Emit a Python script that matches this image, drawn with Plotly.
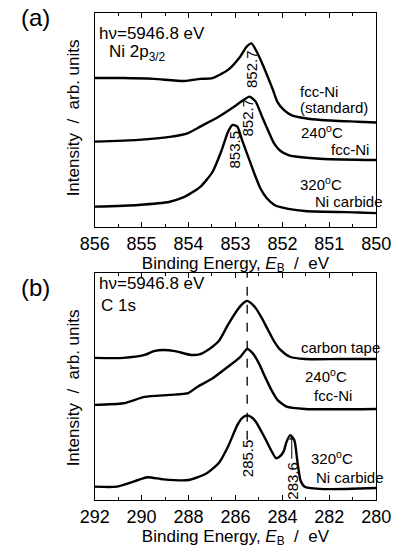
import plotly.graph_objects as go

# ---------------- Panel (a): Ni 2p3/2 ----------------
ni_std_E = [856.00, 855.39, 854.74, 854.09, 853.75, 853.49, 853.16, 852.90, 852.76, 852.66,
            852.53, 852.40, 852.30, 852.20, 852.11, 851.97, 851.81, 851.51, 851.18, 850.39, 850.00]
ni_std_I = [69.6, 69.6, 69.2, 68.2, 69.2, 69.6, 73.4, 79.6, 84.3, 85.8,
            81.2, 74.9, 69.5, 64.0, 58.6, 54.7, 52.3, 50.8, 50.0, 49.2, 48.8]

ni_240_E = [856.00, 855.07, 854.40, 854.01, 853.75, 853.36, 853.03, 852.83, 852.70, 852.57,
            852.43, 852.30, 852.17, 852.04, 851.87, 851.64, 851.12, 850.00]
ni_240_I = [39.9, 40.7, 42.1, 43.9, 46.9, 51.5, 56.2, 59.3, 60.9, 58.6,
            51.4, 44.9, 38.8, 35.5, 33.6, 32.7, 31.8, 31.3]

ni_320_E = [856.00, 855.07, 854.40, 854.14, 854.01, 853.75, 853.49, 853.30, 853.16, 853.06,
            852.96, 852.86, 852.73, 852.60, 852.47, 852.33, 852.17, 851.97, 851.52, 850.39, 850.00]
ni_320_I = [9.5, 10.3, 11.8, 13.6, 15.0, 18.7, 25.7, 35.5, 44.4, 47.7,
            46.9, 40.7, 32.9, 25.1, 18.1, 13.4, 10.3, 8.9, 7.5, 6.8, 6.5]

# ---------------- Panel (b): C 1s ----------------
c_tape_E = [292.00, 290.78, 289.87, 289.47, 289.08, 288.57, 287.89, 287.50, 287.11, 286.71,
            286.32, 285.92, 285.66, 285.50, 285.29, 285.13, 284.87, 284.61, 284.34, 284.08,
            283.68, 283.03, 281.58, 280.00]
c_tape_I = [62.6, 62.6, 63.9, 65.6, 66.1, 65.6, 63.9, 64.3, 66.5, 70.0,
            77.1, 83.7, 86.8, 87.7, 86.3, 84.4, 80.0, 74.9, 69.7, 66.1,
            63.1, 62.1, 62.1, 62.1]

c_240_E = [292.00, 290.78, 289.87, 288.80, 288.01, 287.63, 286.97, 286.32, 285.79, 285.50,
           285.26, 285.00, 284.74, 284.47, 284.21, 283.82, 283.03, 280.00]
c_240_I = [41.9, 42.6, 45.4, 46.3, 47.1, 49.8, 53.6, 58.7, 63.1, 66.5,
           64.6, 60.2, 54.3, 48.5, 44.1, 41.1, 40.1, 40.1]

c_320_E = [292.00, 291.05, 290.14, 289.75, 289.08, 288.01, 287.22, 286.71, 286.32, 285.92,
           285.72, 285.50, 285.33, 285.13, 284.74, 284.27, 284.14, 283.95, 283.82, 283.67,
           283.49, 283.36, 283.22, 283.03, 282.25, 280.00]
c_320_I = [5.9, 5.9, 8.8, 10.0, 9.1, 8.8, 11.8, 16.3, 23.5, 33.0,
           36.1, 37.2, 36.6, 34.5, 27.2, 18.4, 18.9, 21.3, 25.7, 28.6,
           26.3, 16.9, 8.4, 5.7, 4.8, 5.3]

# tick values
ticks_a = [856, 855, 854, 853, 852, 851, 850]
ticks_b = [292, 290, 288, 286, 284, 282, 280]

# peak marks
c_main_peak = 285.5
c_carbide_peak = 283.6

W, H = 407, 550
FONT = "Liberation Sans, Arial, sans-serif"


def px(x):
    return x / W


def py(y):
    return 1 - y / H


fig = go.Figure()
for E, I in [(ni_std_E, ni_std_I), (ni_240_E, ni_240_I), (ni_320_E, ni_320_I)]:
    fig.add_trace(go.Scatter(x=E, y=I, mode="lines", xaxis="x", yaxis="y",
                             line=dict(color="black", width=2.4, shape="spline", smoothing=0.6),
                             showlegend=False, hoverinfo="skip"))
for E, I in [(c_tape_E, c_tape_I), (c_240_E, c_240_I), (c_320_E, c_320_I)]:
    fig.add_trace(go.Scatter(x=E, y=I, mode="lines", xaxis="x2", yaxis="y2",
                             line=dict(color="black", width=2.4, shape="spline", smoothing=0.6),
                             showlegend=False, hoverinfo="skip"))

xcommon = dict(showline=True, linecolor="black", linewidth=1, mirror="ticks",
               ticks="inside", ticklen=5, tickwidth=1, tickcolor="black",
               showgrid=False, zeroline=False,
               tickfont=dict(family=FONT, size=18, color="black"))
ycommon = dict(showline=True, linecolor="black", linewidth=1, mirror=True,
               showticklabels=False, ticks="", showgrid=False, zeroline=False,
               range=[0, 100])

xtitle = "Binding Energy, <i>E</i><sub>B</sub>  /  eV"

fig.update_layout(
    width=W, height=H, margin=dict(l=0, r=0, t=0, b=0),
    paper_bgcolor="white", plot_bgcolor="white",
    font=dict(family=FONT, color="black"),
    xaxis=dict(domain=[px(86), px(390)], anchor="y", range=[856, 850],
               tickvals=ticks_a, minor=dict(dtick=0.5, ticks="inside", ticklen=3, tickcolor="black"),
               title=dict(text=xtitle, font=dict(size=17), standoff=2), **xcommon),
    yaxis=dict(domain=[py(227), py(13)], anchor="x", **ycommon),
    xaxis2=dict(domain=[px(86), px(390)], anchor="y2", range=[292, 280],
                tickvals=ticks_b, minor=dict(dtick=1, ticks="inside", ticklen=3, tickcolor="black"),
                title=dict(text=xtitle, font=dict(size=17), standoff=2), **xcommon),
    yaxis2=dict(domain=[py(500), py(273)], anchor="x2", **ycommon),
)

ann = []


def txt(text, x, y, size=15, xanchor="left", angle=0):
    ann.append(dict(text=text, x=px(x), y=py(y), xref="paper", yref="paper",
                    xanchor=xanchor, yanchor="middle", showarrow=False, textangle=angle,
                    font=dict(family=FONT, size=size, color="black")))


# panel labels & y titles
txt("(a)", 4, 18, size=24)
txt("(b)", 4, 287, size=24)
txt("Intensity  /  arb. units", 63, 118, size=17, xanchor="center", angle=-90)
txt("Intensity  /  arb. units", 63, 388, size=17, xanchor="center", angle=-90)

# panel a texts
txt("h\u03bd=5946.8 eV", 89, 33, size=17)
txt("Ni 2p<sub>3/2</sub>", 99, 53, size=17)
txt("fcc-Ni", 305, 92)
txt("(standard)", 305, 108)
txt("240<sup>o</sup>C", 307, 131)
txt("fcc-Ni", 339, 149)
txt("320<sup>o</sup>C", 305, 183)
txt("Ni carbide", 322, 201)

# panel b texts
txt("h\u03bd=5946.8 eV", 89, 283, size=17)
txt("C 1s", 91, 305, size=17)
txt("carbon tape", 307, 347)
txt("240<sup>o</sup>C", 311, 375)
txt("fcc-Ni", 321, 395)
txt("320<sup>o</sup>C", 317, 457)
txt("Ni carbide", 323, 477)

# peak value labels (data coords)
def dlabel(text, x, y, xr, yr):
    ann.append(dict(text=text, x=x, y=y, xref=xr, yref=yr, xanchor="center", yanchor="middle",
                    showarrow=False, textangle=-90,
                    font=dict(family=FONT, size=15, color="black")))


dlabel("852.7", 852.66, 74.0, "x", "y")
dlabel("852.7", 852.74, 51.0, "x", "y")
dlabel("853.5", 853.02, 36.0, "x", "y")
dlabel("285.5", c_main_peak, 18.5, "x2", "y2")
dlabel("283.6", 283.55, 8.5, "x2", "y2")

# arrow to carbide peak
ann.append(dict(x=c_carbide_peak, y=28.0, ax=c_carbide_peak, ay=17.5, xref="x2", yref="y2",
                axref="x2", ayref="y2", text="", showarrow=True, arrowhead=1, arrowsize=1,
                arrowwidth=1, arrowcolor="black"))

fig.update_layout(annotations=ann)

# dashed guide line at main C 1s peak
fig.add_shape(type="line", xref="x2", yref="y2", x0=c_main_peak, x1=c_main_peak, y0=26.5, y1=100,
              line=dict(color="black", width=1.3, dash="dash"))

fig.write_html("out.html")
